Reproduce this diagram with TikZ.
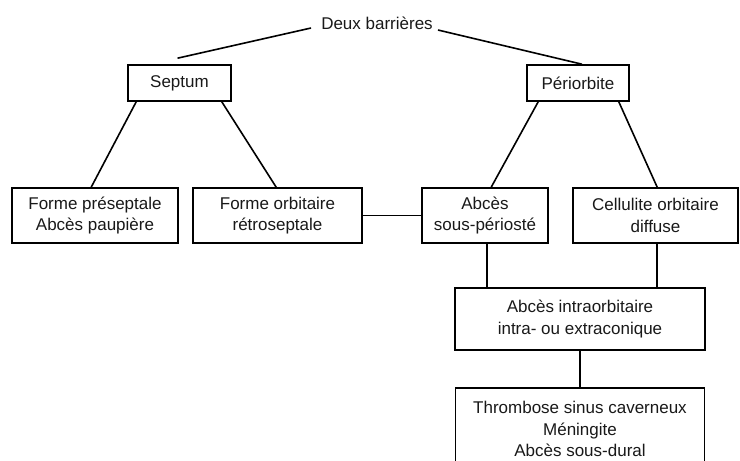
\documentclass[tikz,border=0pt]{standalone}
\usepackage{fontspec}
\setmainfont{Liberation Sans}
\begin{document}
\begin{tikzpicture}[x=1pt,y=-1pt,
  every node/.style={font=\fontsize{17}{21.5}\selectfont, text=black!90},
  box/.style={draw=black, line width=1.6pt, inner sep=0pt, align=center},
  link/.style={line width=1.6pt}]
\useasboundingbox (0,0) rectangle (740,461);
\fill[white] (0,0) rectangle (740,461);
\clip (0,0) rectangle (740,461);
\node[inner sep=0pt] (deux) at (377,23) {Deux barrières};
\node[box, minimum width=103pt, minimum height=36pt] (septum) at (179.5,83) {Septum};
\node[box, minimum width=102pt, minimum height=36pt] (peri) at (578,83) {Périorbite};
\node[box, minimum width=166pt, minimum height=55pt] (pre) at (95,215.5) {Forme préseptale\\Abcès paupière};
\node[box, minimum width=169pt, minimum height=55pt] (orb) at (277.5,215.5) {Forme orbitaire\\rétroseptale};
\node[box, minimum width=126pt, minimum height=55pt] (sous) at (485,215.5) {Abcès\\sous-périosté};
\node[box, minimum width=165pt, minimum height=55pt] (cell) at (655.5,215.5) {Cellulite orbitaire\\diffuse};
\node[box, minimum width=250pt, minimum height=62pt] (intra) at (580,319) {Abcès intraorbitaire\\intra- ou extraconique};
\node[box, minimum width=249pt, minimum height=82pt] (thromb) at (580,429) {Thrombose sinus caverneux\\Méningite\\Abcès sous-dural};
\draw[link] ([shift={(-10,5)}]deux.west) -- ([shift={(-2,-6)}]septum.north);
\draw[link] ([shift={(5,7)}]deux.east) -- ([xshift=4pt]peri.north);
\draw[link] ([xshift=9pt]septum.south west) -- ([xshift=80pt]pre.north west);
\draw[link] ([xshift=-10pt]septum.south east) -- ([xshift=84pt]orb.north west);
\draw[link] ([xshift=12pt]peri.south west) -- ([xshift=70pt]sous.north west);
\draw[link] ([xshift=-11pt]peri.south east) -- ([xshift=85pt]cell.north west);
\draw[link] (orb.east) -- (sous.west);
\coordinate (s1) at ([xshift=66pt]sous.south west);
\coordinate (c1) at ([xshift=85pt]cell.south west);
\draw[link] (s1) -- (s1 |- intra.north);
\draw[link] (c1) -- (c1 |- intra.north);
\draw[link] (intra.south) -- (thromb.north);
\end{tikzpicture}
\end{document}
